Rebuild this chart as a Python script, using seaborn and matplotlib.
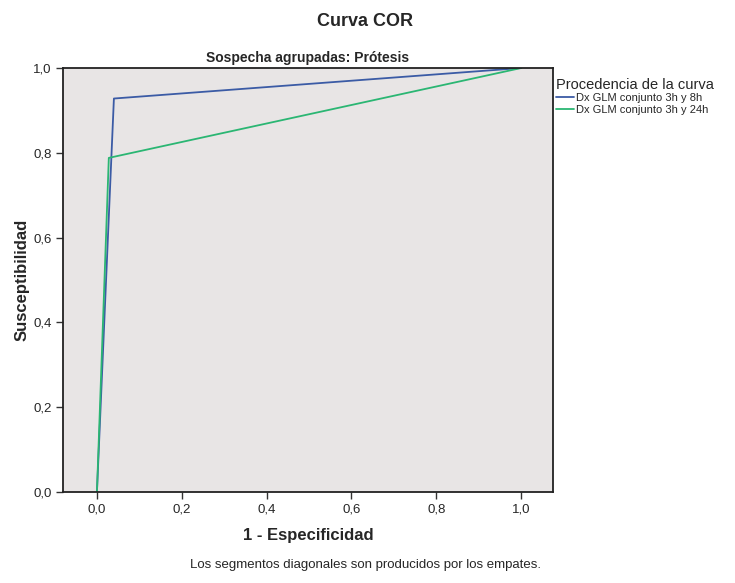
import numpy as np
import pandas as pd
import seaborn as sns
import matplotlib.pyplot as plt

# ROC points
fpr_8h = [0.0, 0.040, 1.0]
tpr_8h = [0.0, 0.928, 1.0]
fpr_24h = [0.0, 0.028, 1.0]
tpr_24h = [0.0, 0.788, 1.0]
series_names = ["Dx GLM conjunto 3h y 8h", "Dx GLM conjunto 3h y 24h"]
series_colors = ["#3b5ba5", "#2bb673"]
tick_vals = [0.0, 0.2, 0.4, 0.6, 0.8, 1.0]
tick_labels = ["0,0", "0,2", "0,4", "0,6", "0,8", "1,0"]

df = pd.concat([
    pd.DataFrame({"fpr": fpr_8h, "tpr": tpr_8h, "curva": series_names[0]}),
    pd.DataFrame({"fpr": fpr_24h, "tpr": tpr_24h, "curva": series_names[1]}),
])

sns.set_style("ticks")
plt.rcParams["font.family"] = ["Liberation Sans", "DejaVu Sans"]

W, H = 735, 583
fig = plt.figure(figsize=(W / 100, H / 100), dpi=100)
# plot box: x 63..553, y 68..492 (pixels)
ax = fig.add_axes([63 / W, 1 - 492 / H, (553 - 63) / W, (492 - 68) / H])
ax.set_facecolor("#e8e5e5")

sns.lineplot(data=df, x="fpr", y="tpr", hue="curva", palette=series_colors,
             sort=False, estimator=None, linewidth=1.3, ax=ax)

ax.set_xlim(-0.08, 1.075)
ax.set_ylim(0, 1)
ax.set_xticks(tick_vals)
ax.set_xticklabels(tick_labels, fontsize=9.5)
ax.set_yticks(tick_vals)
ax.set_yticklabels(tick_labels, fontsize=9.5)
ax.tick_params(length=5, width=1, color="#333333", pad=3)
for s in ax.spines.values():
    s.set_linewidth(1.3)
    s.set_color("#222222")

ax.set_xlabel("1 - Especificidad", fontsize=12, fontweight="bold", labelpad=9)
ax.set_ylabel("Susceptibilidad", fontsize=12, fontweight="bold", labelpad=3)
ax.set_title("Sospecha agrupadas: Prótesis", fontsize=10, fontweight="bold", pad=4)
fig.text(365 / W, 1 - 22 / H, "Curva COR", ha="center", va="center",
         fontsize=13, fontweight="bold")
fig.text(365 / W, 1 - 565 / H, "Los segmentos diagonales son producidos por los empates.",
         ha="center", va="center", fontsize=9.5)

leg = ax.legend(title="Procedencia de la curva", loc="upper left",
                bbox_to_anchor=(1.0, 0.985), frameon=False, fontsize=8,
                title_fontsize=10.5, handlelength=1.6, handletextpad=0.15,
                labelspacing=0.15, borderaxespad=0.1, borderpad=0.2)
leg._legend_box.align = "left"

fig.savefig("out.png", dpi=100)
